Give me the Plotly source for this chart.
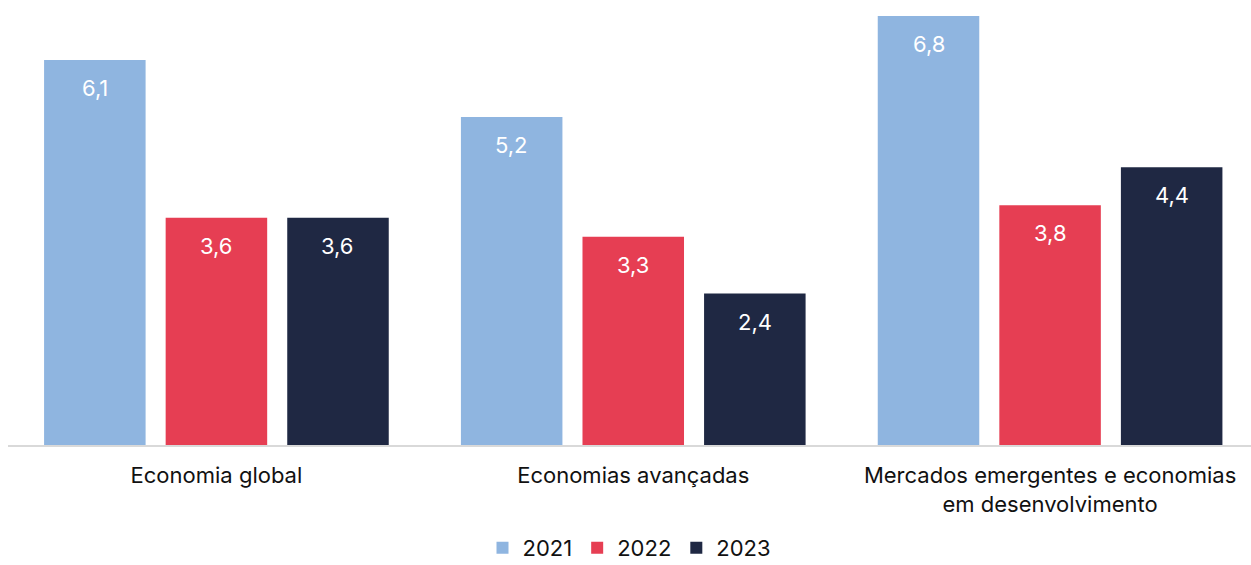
import plotly.graph_objects as go

categories = ["Economia global", "Economias avançadas",
              "Mercados emergentes e economias<br>em desenvolvimento"]
years = ["2021", "2022", "2023"]
v2021 = [6.1, 5.2, 6.8]
v2022 = [3.6, 3.3, 3.8]
v2023 = [3.6, 2.4, 4.4]
series = [v2021, v2022, v2023]
colors = ["#8fb5e0", "#e63e53", "#1f2843"]

FONT = "Inter, Noto Sans, sans-serif"
bargap = 0.125
xpos = list(range(len(categories)))

fig = go.Figure()
for name, vals, col in zip(years, series, colors):
    fig.add_trace(go.Bar(x=xpos, y=vals, name=name, marker_color=col,
                         marker_line_width=0))

slot = (1 - bargap) / len(series)
for j, vals in enumerate(series):
    off = (j - (len(series) - 1) / 2) * slot
    for i, v in enumerate(vals):
        fig.add_annotation(x=xpos[i] + off, y=v, xref="x", yref="y",
                           text=f"{v:.1f}".replace(".", ","), showarrow=False,
                           yanchor="top", yshift=-13,
                           font=dict(family=FONT, size=22, color="white"))

fig.update_layout(
    width=1251, height=565,
    margin=dict(l=8, r=0, t=10, b=120, autoexpand=False),
    paper_bgcolor="white", plot_bgcolor="white",
    barmode="group", bargap=bargap, bargroupgap=0.165,
    font=dict(family=FONT, size=22, color="#111111"),
    showlegend=True,
    legend=dict(orientation="h", x=0.5, xanchor="center",
                yref="container", y=0.03, yanchor="middle",
                font=dict(family=FONT, size=22, color="#111111"),
                itemwidth=30, traceorder="normal"),
    xaxis=dict(tickmode="array", tickvals=xpos, ticktext=categories,
               range=[-0.5, 2.482], showline=True, linecolor="#d9d9d9", linewidth=2,
               ticks="outside", ticklen=10, tickcolor="rgba(0,0,0,0)",
               showgrid=False, zeroline=False, automargin=False,
               tickfont=dict(family=FONT, size=22, color="#111111")),
    yaxis=dict(range=[0, 6.894], visible=False, showgrid=False, zeroline=False),
)

fig.write_html("out.html")
